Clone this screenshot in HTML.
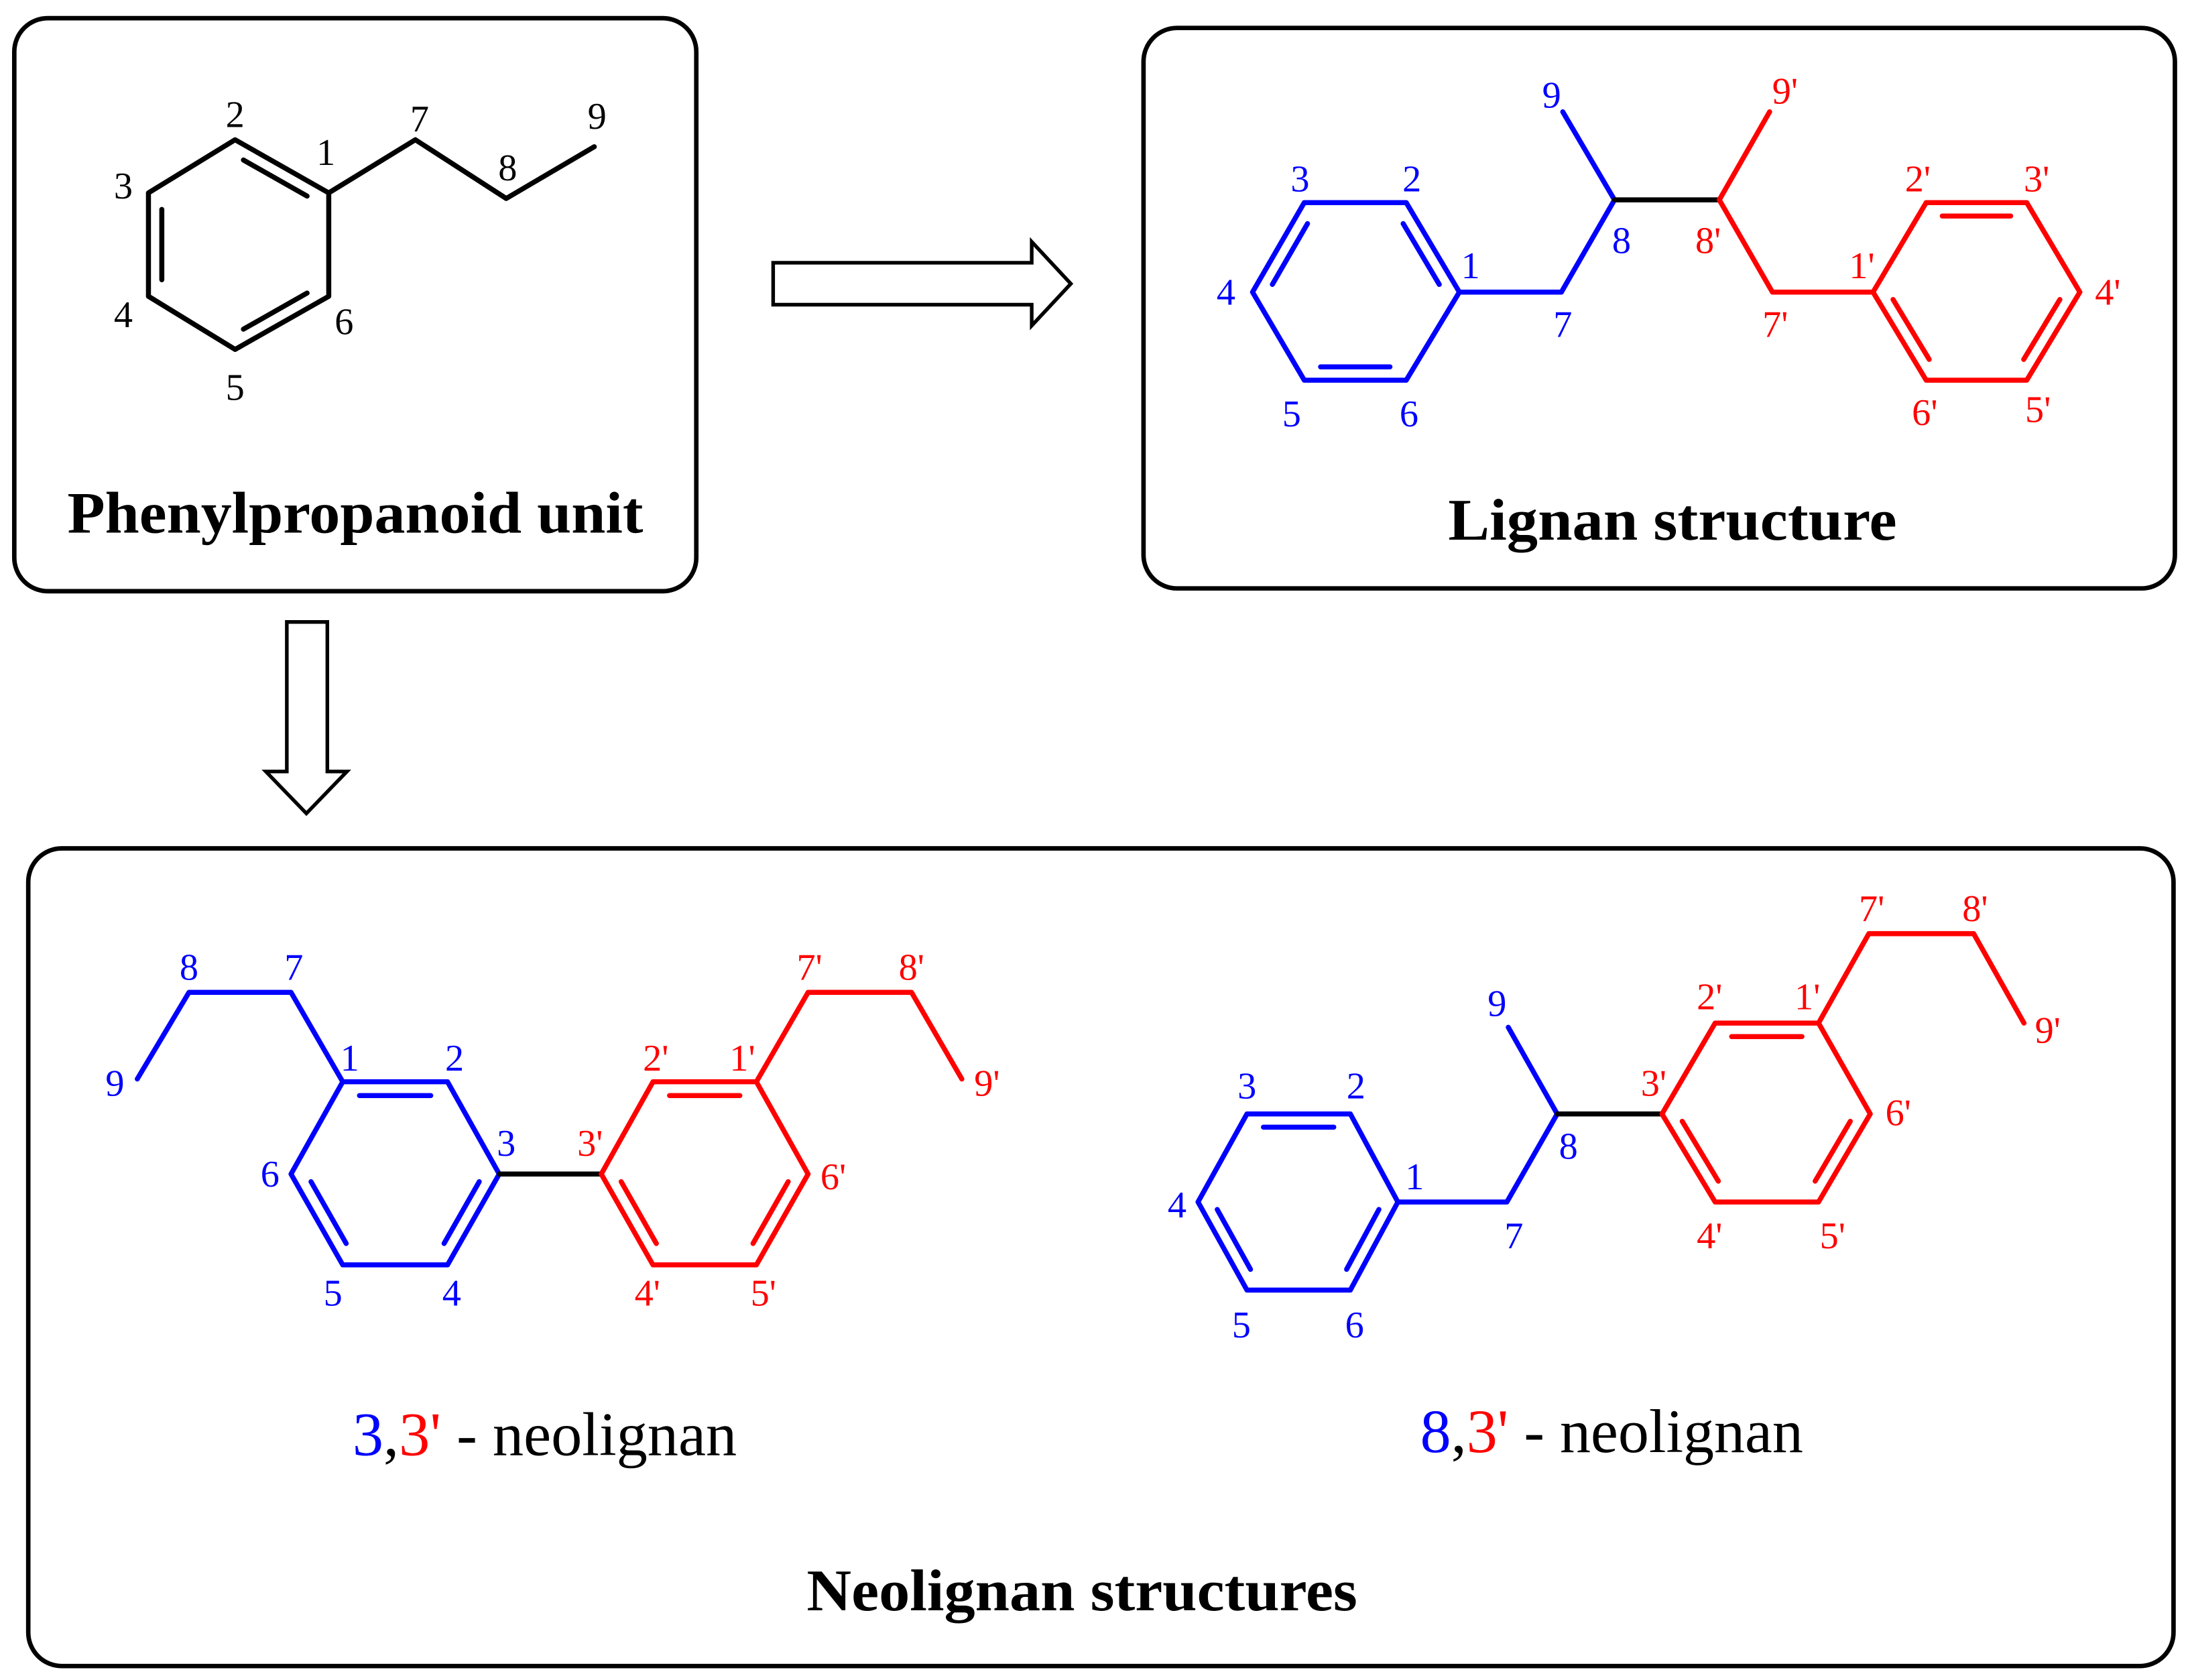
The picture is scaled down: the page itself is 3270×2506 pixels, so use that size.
<!DOCTYPE html>
<html><head><meta charset="utf-8"><style>
html,body{margin:0;padding:0;background:#fff;}
svg{display:block;}
text{font-family:"Liberation Serif",serif;}
.l{font-size:27px;}
.b{fill:#0000ff;}
.r{fill:#ff0000;}
.k{fill:#000;}
</style></head><body>
<svg id="s" width="3270" height="2506" viewBox="0 0 1568 1202" xmlns="http://www.w3.org/2000/svg">
<g fill="none" stroke="#000" stroke-width="3.2">
<rect x="10" y="13" width="488" height="410" rx="24"/>
<rect x="818" y="20" width="738" height="401" rx="24"/>
<rect x="20" y="607" width="1535" height="585" rx="24"/>
<path d="M553 188 H738 V173 L766 203 L738 233 V218 H553 Z" stroke-width="2.6"/>
<path d="M205 445 H234 V552 H248 L219 582 L190 552 H205 Z" stroke-width="2.6"/>
</g>
<g id="bonds" fill="none" stroke-width="3.6" stroke-linecap="round" stroke-linejoin="round"></g>
<g class="l">
<g class="k">
<text x="168" y="91" text-anchor="middle">2</text>
<text x="233" y="118" text-anchor="middle">1</text>
<text x="88" y="142" text-anchor="middle">3</text>
<text x="88" y="234" text-anchor="middle">4</text>
<text x="246" y="239" text-anchor="middle">6</text>
<text x="168" y="286" text-anchor="middle">5</text>
<text x="300" y="94" text-anchor="middle">7</text>
<text x="363" y="129" text-anchor="middle">8</text>
<text x="427" y="92" text-anchor="middle">9</text>
</g>
<g class="b">
<text x="1110" y="77" text-anchor="middle">9</text>
<text x="930" y="137" text-anchor="middle">3</text>
<text x="1010" y="137" text-anchor="middle">2</text>
<text x="1052" y="199" text-anchor="middle">1</text>
<text x="877" y="218" text-anchor="middle">4</text>
<text x="1160" y="181" text-anchor="middle">8</text>
<text x="1118" y="241" text-anchor="middle">7</text>
<text x="924" y="305" text-anchor="middle">5</text>
<text x="1008" y="305" text-anchor="middle">6</text>
</g>
<g class="r">
<text x="1277" y="74" text-anchor="middle">9'</text>
<text x="1222" y="181" text-anchor="middle">8'</text>
<text x="1270" y="241" text-anchor="middle">7'</text>
<text x="1332" y="199" text-anchor="middle">1'</text>
<text x="1372" y="137" text-anchor="middle">2'</text>
<text x="1457" y="137" text-anchor="middle">3'</text>
<text x="1508" y="218" text-anchor="middle">4'</text>
<text x="1377" y="304" text-anchor="middle">6'</text>
<text x="1458" y="302" text-anchor="middle">5'</text>
</g>
<g class="b">
<text x="135" y="701" text-anchor="middle">8</text>
<text x="210" y="701" text-anchor="middle">7</text>
<text x="82" y="784" text-anchor="middle">9</text>
<text x="250" y="766" text-anchor="middle">1</text>
<text x="325" y="766" text-anchor="middle">2</text>
<text x="362" y="827" text-anchor="middle">3</text>
<text x="193" y="849" text-anchor="middle">6</text>
<text x="238" y="934" text-anchor="middle">5</text>
<text x="323" y="934" text-anchor="middle">4</text>
</g>
<g class="r">
<text x="422" y="827" text-anchor="middle">3'</text>
<text x="469" y="766" text-anchor="middle">2'</text>
<text x="531" y="766" text-anchor="middle">1'</text>
<text x="596" y="851" text-anchor="middle">6'</text>
<text x="463" y="934" text-anchor="middle">4'</text>
<text x="546" y="934" text-anchor="middle">5'</text>
<text x="579" y="701" text-anchor="middle">7'</text>
<text x="652" y="701" text-anchor="middle">8'</text>
<text x="706" y="784" text-anchor="middle">9'</text>
</g>
<g class="b">
<text x="1071" y="727" text-anchor="middle">9</text>
<text x="892" y="786" text-anchor="middle">3</text>
<text x="970" y="786" text-anchor="middle">2</text>
<text x="1012" y="851" text-anchor="middle">1</text>
<text x="842" y="871" text-anchor="middle">4</text>
<text x="1122" y="829" text-anchor="middle">8</text>
<text x="1083" y="893" text-anchor="middle">7</text>
<text x="888" y="957" text-anchor="middle">5</text>
<text x="969" y="957" text-anchor="middle">6</text>
</g>
<g class="r">
<text x="1183" y="784" text-anchor="middle">3'</text>
<text x="1223" y="722" text-anchor="middle">2'</text>
<text x="1293" y="722" text-anchor="middle">1'</text>
<text x="1339" y="659" text-anchor="middle">7'</text>
<text x="1413" y="659" text-anchor="middle">8'</text>
<text x="1465" y="746" text-anchor="middle">9'</text>
<text x="1358" y="805" text-anchor="middle">6'</text>
<text x="1223" y="893" text-anchor="middle">4'</text>
<text x="1311" y="893" text-anchor="middle">5'</text>
</g>
</g>
<text x="48" y="381" font-size="42" font-weight="bold" textLength="412" lengthAdjust="spacingAndGlyphs">Phenylpropanoid unit</text>
<text x="1036" y="386" font-size="42" font-weight="bold" textLength="321" lengthAdjust="spacingAndGlyphs">Lignan structure</text>
<text x="577" y="1152" font-size="42" font-weight="bold" textLength="394" lengthAdjust="spacingAndGlyphs">Neolignan structures</text>
<text x="252" y="1041" font-size="44" textLength="275" lengthAdjust="spacingAndGlyphs"><tspan fill="#0000ff">3</tspan>,<tspan fill="#ff0000">3'</tspan> - neolignan</text>
<text x="1016" y="1039" font-size="44" textLength="274" lengthAdjust="spacingAndGlyphs"><tspan fill="#0000ff">8</tspan>,<tspan fill="#ff0000">3'</tspan> - neolignan</text>
</svg>
<script>
(function(){
var g=document.getElementById('bonds'),NS='http://www.w3.org/2000/svg';
function line(a,b,c){var l=document.createElementNS(NS,'line');l.setAttribute('x1',a[0]);l.setAttribute('y1',a[1]);l.setAttribute('x2',b[0]);l.setAttribute('y2',b[1]);l.setAttribute('stroke',c);g.appendChild(l);}
function poly(pts,c,close){var p=document.createElementNS(NS,'polyline');if(close)pts=pts.concat([pts[0]]);p.setAttribute('points',pts.map(function(q){return q.join(',')}).join(' '));p.setAttribute('stroke',c);g.appendChild(p);}
function ring(v,dbl,c){poly(v,c,true);var cx=0,cy=0;v.forEach(function(p){cx+=p[0];cy+=p[1]});cx/=6;cy/=6;
dbl.forEach(function(i){var a=v[i],b=v[(i+1)%6],f=0.15;
var a2=[a[0]+(cx-a[0])*f,a[1]+(cy-a[1])*f],b2=[b[0]+(cx-b[0])*f,b[1]+(cy-b[1])*f];
var dx=b2[0]-a2[0],dy=b2[1]-a2[1],s=0.1;
line([a2[0]+dx*s,a2[1]+dy*s],[b2[0]-dx*s,b2[1]-dy*s],c);});}
var K='#000',B='#0000ff',R='#ff0000';
ring([[235,138],[168,100],[106,138],[106,212],[168,250],[235,212]],[0,2,4],K);
poly([[235,138],[297,100],[362,142],[425,105]],K);
ring([[1044,209],[1006,145],[933,145],[896,209],[933,272],[1006,272]],[0,2,4],B);
poly([[1044,209],[1117,209],[1155,143],[1118,80]],B);
line([1155,143],[1230,143],K);
poly([[1266,80],[1230,143],[1268,209],[1340,209]],R);
ring([[1340,209],[1378,145],[1450,145],[1488,209],[1450,272],[1378,272]],[1,3,5],R);
ring([[245,774],[320,774],[357,840],[320,905],[245,905],[208,840]],[0,2,4],B);
poly([[245,774],[208,710],[135,710],[98,772]],B);
line([357,840],[430,840],K);
ring([[430,840],[467,774],[541,774],[578,840],[541,905],[467,905]],[1,3,5],R);
poly([[541,774],[578,710],[652,710],[688,772]],R);
ring([[1000,860],[966,797],[892,797],[857,860],[892,923],[966,923]],[1,3,5],B);
poly([[1000,860],[1078,860],[1114,797],[1079,735]],B);
line([1114,797],[1189,797],K);
ring([[1189,797],[1227,732],[1301,732],[1338,797],[1301,860],[1227,860]],[1,3,5],R);
poly([[1301,732],[1337,668],[1412,668],[1448,732]],R);
})();
</script>
</body></html>
